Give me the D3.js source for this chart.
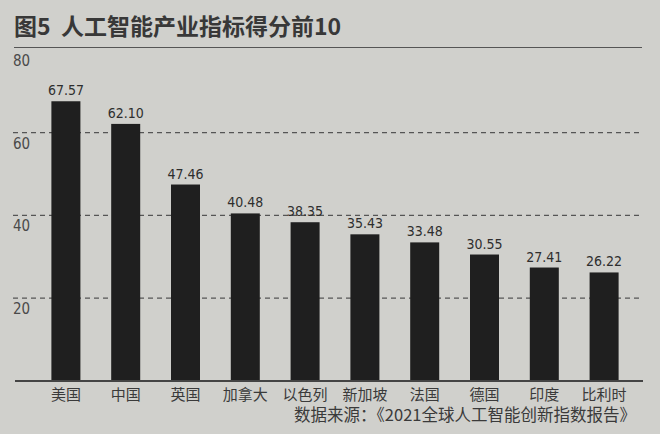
<!DOCTYPE html>
<html>
<head>
<meta charset="utf-8">
<script src="https://cdn.jsdelivr.net/npm/d3@7"></script>
<style>
  html, body { margin: 0; padding: 0; background: #d0d0cc; }
  svg { display: block; }
</style>
</head>
<body>
<svg id="svg" width="660" height="434"></svg>
<script>
(function() {
  'use strict';

  // data
  var countries = ["美国", "中国", "英国", "加拿大", "以色列", "新加坡", "法国", "德国", "印度", "比利时"];
  var scores = [67.57, 62.10, 47.46, 40.48, 38.35, 35.43, 33.48, 30.55, 27.41, 26.22];
  var yTicks = [20, 40, 60, 80];

  var title = "图5  人工智能产业指标得分前10";
  var source = "数据来源：《2021全球人工智能创新指数报告》";

  var cjk = "'Noto Sans CJK SC', 'Noto Sans', sans-serif";
  var num = "'DejaVu Sans Condensed', 'DejaVu Sans', sans-serif";

  var svg = d3.select("#svg");

  var x = d3.scaleBand()
    .domain(countries)
    .range([36, 634])
    .paddingInner(0.515)
    .paddingOuter(0.2575);

  var y = d3.scaleLinear()
    .domain([0, 80])
    .range([381, 49.8]);

  // title and rule under it
  svg.append("text")
    .attr("x", 14)
    .attr("y", 35)
    .attr("font-family", cjk)
    .attr("font-weight", "bold")
    .attr("font-size", 23)
    .attr("fill", "#383838")
    .attr("xml:space", "preserve")
    .text(title);

  svg.append("line")
    .attr("x1", 14).attr("x2", 642)
    .attr("y1", 47.5).attr("y2", 47.5)
    .attr("stroke", "#555").attr("stroke-width", 1.2);

  // dashed grid lines (80 sits on the title rule)
  svg.append("g").selectAll("line")
    .data(yTicks.filter(function(d) { return d < 80; }))
    .join("line")
    .attr("x1", 13).attr("x2", 643)
    .attr("y1", function(d) { return y(d); })
    .attr("y2", function(d) { return y(d); })
    .attr("stroke", "#555")
    .attr("stroke-width", 1.2)
    .attr("stroke-dasharray", "5,4");

  // tick labels, placed just under each line
  svg.append("g").selectAll("text")
    .data(yTicks)
    .join("text")
    .attr("x", 13)
    .attr("y", function(d) { return y(d) + 16; })
    .attr("font-family", num)
    .attr("font-size", 15)
    .attr("fill", "#4a4a4a")
    .text(function(d) { return d; });

  // bars
  svg.append("g").selectAll("rect")
    .data(scores)
    .join("rect")
    .attr("x", function(d, i) { return x(countries[i]); })
    .attr("width", x.bandwidth())
    .attr("y", function(d) { return y(d); })
    .attr("height", function(d) { return y(0) - y(d); })
    .attr("fill", "#1f1f1f");

  // value labels
  svg.append("g").selectAll("text")
    .data(scores)
    .join("text")
    .attr("x", function(d, i) { return x(countries[i]) + x.bandwidth() / 2; })
    .attr("y", function(d) { return y(d) - 6; })
    .attr("text-anchor", "middle")
    .attr("font-family", num)
    .attr("font-size", 14)
    .attr("fill", "#2e2e2e")
    .text(function(d) { return d.toFixed(2); });

  // baseline
  svg.append("line")
    .attr("x1", 15).attr("x2", 643)
    .attr("y1", y(0)).attr("y2", y(0))
    .attr("stroke", "#444").attr("stroke-width", 1.8);

  // category labels
  var xAxis = svg.append("g")
    .attr("transform", "translate(0," + y(0) + ")")
    .call(d3.axisBottom(x).tickSize(0).tickPadding(8));
  xAxis.select(".domain").remove();
  xAxis.selectAll("text")
    .attr("font-family", cjk)
    .attr("font-size", 15)
    .attr("fill", "#3a3a3a");

  // source note
  svg.append("text")
    .attr("x", 636)
    .attr("y", 421)
    .attr("text-anchor", "end")
    .attr("font-family", cjk)
    .attr("font-size", 16.5)
    .attr("fill", "#3a3a3a")
    .text(source);
}());
</script>
</body>
</html>
